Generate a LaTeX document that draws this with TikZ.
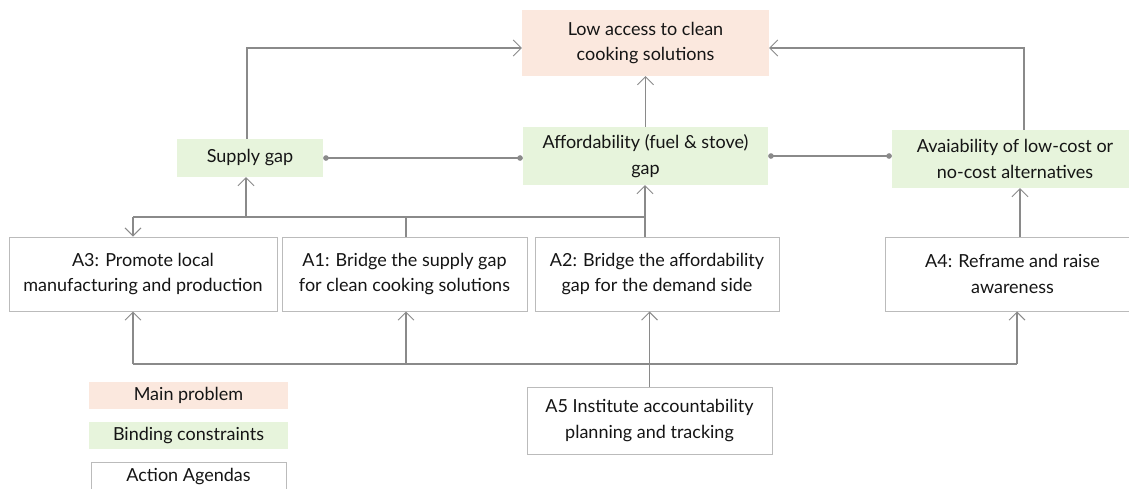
\documentclass[tikz,border=0pt]{standalone}
\usepackage{fontspec}
\setmainfont{Lato}
\usetikzlibrary{arrows.meta}
\definecolor{lngray}{HTML}{8A8A8A}
\definecolor{bdgray}{HTML}{BBBBBB}
\definecolor{mainfill}{HTML}{FBE8DE}
\definecolor{greenfill}{HTML}{E7F4DC}
\definecolor{txt}{HTML}{151515}
\begin{document}
\begin{tikzpicture}[x=1pt,y=-1pt,
  every node/.style={inner sep=0pt, align=center, text=txt, font=\fontsize{18}{25.5}\selectfont},
  mainbox/.style={fill=mainfill},
  gbox/.style={fill=greenfill},
  abox/.style={draw=bdgray, line width=1pt, fill=white},
  ln/.style={draw=lngray, line width=1.1pt},
  arr/.style={ln, -{Straight Barb[length=8pt,width=16pt,line width=0.9pt]}},
  dotl/.style={ln, {Circle[length=5.5pt]}-{Circle[length=5.5pt]}}
]
\useasboundingbox (0,0) rectangle (1129,488);
% main problem
\node[mainbox, minimum width=247pt, minimum height=66pt] (main) at (645.5,43) {Low access to clean\\cooking solutions};
% binding constraints
\node[gbox, minimum width=245pt, minimum height=58pt] (afford) at (645.5,156) {Affordability (fuel \& stove)\\gap};
\node[gbox, minimum width=146pt, minimum height=38pt] (supply) at (250,158) {Supply gap};
\node[gbox, minimum width=246pt, minimum height=58pt] (avail) at (1015,159) {Avaiability of low-cost or\\no-cost alternatives};
% action agendas
\node[abox, minimum width=268pt, minimum height=74pt] (A3) at (143,274) {A3: Promote local\\manufacturing and production};
\node[abox, minimum width=245pt, minimum height=74pt] (A1) at (404.5,274) {A1: Bridge the supply gap\\for clean cooking solutions};
\node[abox, minimum width=244pt, minimum height=74pt] (A2) at (657,274) {A2: Bridge the affordability\\gap for the demand side};
\node[abox, minimum width=255pt, minimum height=74pt] (A4) at (1012.5,274) {A4: Reframe and raise\\awareness};
\node[abox, minimum width=245pt, minimum height=67pt] (A5) at (649.5,420.5) {A5 Institute accountability\\planning and tracking};
% legend
\node[mainbox, minimum width=199pt, minimum height=27pt] (L1) at (188.5,395.5) {Main problem};
\node[gbox, minimum width=199pt, minimum height=27pt] (L2) at (188.5,435.5) {Binding constraints};
\node[abox, minimum width=195pt, minimum height=30pt] (L3) at (188.5,477) {Action Agendas};
% top connections
\draw[arr] ([xshift=-3pt]supply.north) |- ([yshift=-5pt]main.west);
\draw[arr] ([xshift=9pt]avail.north) |- ([yshift=-5pt]main.east);
\draw[arr] (afford.north) -- (main.south);
\draw[dotl] (supply.east) -- (supply.east -| afford.west);
\draw[dotl] (afford.east) -- (afford.east -| avail.west);
% upper bus
\coordinate (b1) at (133,217);
\coordinate (b2) at (246,217);
\coordinate (b3) at (406,217);
\coordinate (b4) at (645,217);
\draw[ln] (b1) -- (b4);
\draw[arr] (b1) -- (b1 |- A3.north);
\draw[arr] (b2) -- (b2 |- supply.south);
\draw[ln] (b3) -- (b3 |- A1.north);
\draw[arr] (b4 |- A2.north) -- (b4 |- afford.south);
% A4 to availability
\coordinate (d) at (1020,0);
\draw[arr] (d |- A4.north) -- (d |- avail.south);
% lower bus
\coordinate (c1) at (133,364);
\coordinate (c2) at (406,364);
\coordinate (c3) at (1017,364);
\draw[ln] (c1) -- (c3);
\draw[arr] (c1) -- (c1 |- A3.south);
\draw[arr] (c2) -- (c2 |- A1.south);
\draw[arr] (c3) -- (c3 |- A4.south);
\draw[arr] (A5.north) -- (A5.north |- A2.south);
\end{tikzpicture}
\end{document}
